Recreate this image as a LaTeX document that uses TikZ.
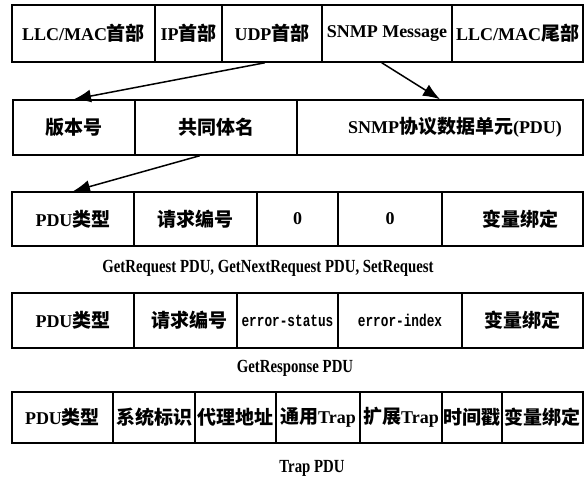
\documentclass[tikz,border=0pt]{standalone}
\usepackage{fontspec}
\setmainfont{Liberation Serif}
\newfontfamily\monofont{Liberation Mono}[FakeStretch=0.75]
\newfontfamily\cjk{Noto Sans CJK SC}
\newfontfamily\capfont{Liberation Serif}[FakeStretch=0.8]
\usetikzlibrary{arrows.meta,calc}
\newcommand\zh[1]{{\cjk\fontsize{19}{19}\selectfont #1}}
\tikzset{
  cell/.style={draw, line width=1.5pt, inner sep=0pt, font=\bfseries\fontsize{18}{18}\selectfont},
  monocell/.style={cell, font=\monofont\bfseries\fontsize{17}{17}\selectfont},
  captext/.style={inner sep=0pt, font=\capfont\bfseries\fontsize{18.5}{18.5}\selectfont},
  arr/.style={line width=1.5pt, -{Latex[length=17pt,width=13pt]}},
}
\begin{document}
\begin{tikzpicture}[x=1pt,y=-1pt]
\useasboundingbox (0,0) rectangle (587,477);
% row 1
\node[cell, minimum width=143, minimum height=57] (r1a) at (83.5,33.5) {LLC/MAC\zh{首部}};
\node[cell, minimum width=67,  minimum height=57] (r1b) at (188.5,33.5) {IP\zh{首部}};
\node[cell, minimum width=100, minimum height=57] (r1c) at (272,33.5) {UDP\zh{首部}};
\node[cell, minimum width=130, minimum height=57] (r1d) at (387,33.5) {SNMP Message};
\node[cell, minimum width=131, minimum height=57] (r1e) at (517.5,33.5) {LLC/MAC\zh{尾部}};
% row 2
\node[cell, minimum width=122, minimum height=55] (r2a) at (74,127.5) {\zh{版本号}};
\node[cell, minimum width=162, minimum height=55] (r2b) at (216,127.5) {\zh{共同体名}};
\node[cell, minimum width=286, minimum height=55] (r2c) at (440,127.5) {\hspace*{30pt}SNMP\zh{协议数据单元}(PDU)};
% row 3
\node[cell, minimum width=122, minimum height=54] (r3a) at (73,219) {PDU\zh{类型}};
\node[cell, minimum width=123, minimum height=54] (r3b) at (195.5,219) {\zh{请求编号}};
\node[cell, minimum width=81,  minimum height=54] (r3c) at (297.5,219) {0};
\node[cell, minimum width=104, minimum height=54] (r3d) at (390,219) {0};
\node[cell, minimum width=141, minimum height=54] (r3e) at (512.5,219) {\hspace*{16pt}\zh{变量绑定}};
\node[captext] (c1) at (268,268) {GetRequest PDU, GetNextRequest PDU, SetRequest};
% row 4
\node[cell, minimum width=122, minimum height=55] (r4a) at (73,320.5) {PDU\zh{类型}};
\node[cell, minimum width=103, minimum height=55] (r4b) at (185.5,320.5) {\hspace*{8pt}\zh{请求编号}};
\node[monocell, minimum width=101, minimum height=55] (r4c) at (287.5,320.5) {error-status};
\node[monocell, minimum width=124, minimum height=55] (r4d) at (400,320.5) {error-index};
\node[cell, minimum width=121, minimum height=55] (r4e) at (522.5,320.5) {\zh{变量绑定}};
\node[captext] (c2) at (295,368) {GetResponse PDU};
% row 5
\node[cell, minimum width=101, minimum height=51] (r5a) at (62.5,417.5) {PDU\zh{类型}};
\node[cell, minimum width=82,  minimum height=51] (r5b) at (154,417.5) {\zh{系统标识}};
\node[cell, minimum width=81,  minimum height=51] (r5c) at (235.5,417.5) {\zh{代理地址}};
\node[cell, minimum width=84,  minimum height=51] (r5d) at (318,417.5) {\zh{通用}Trap};
\node[cell, minimum width=82,  minimum height=51] (r5e) at (401,417.5) {\zh{扩展}Trap};
\node[cell, minimum width=60,  minimum height=51] (r5f) at (472,417.5) {\zh{时间戳}};
\node[cell, minimum width=81,  minimum height=51] (r5g) at (542.5,417.5) {\zh{变量绑定}};
\node[captext] (c3) at (312,468) {Trap PDU};
% arrows
\coordinate (a1) at ($(r1c.south west)!0.43!(r1c.south east)$);
\coordinate (a2) at ($(r1d.south west)!0.46!(r1d.south east)$);
\coordinate (a3) at ($(r2b.south west)!0.4!(r2b.south east)$);
\draw[arr] (a1) -- (r2a.north);
\draw[arr] (a2) -- (r2c.north);
\draw[arr] (a3) -- (r3a.north);
\end{tikzpicture}
\end{document}
